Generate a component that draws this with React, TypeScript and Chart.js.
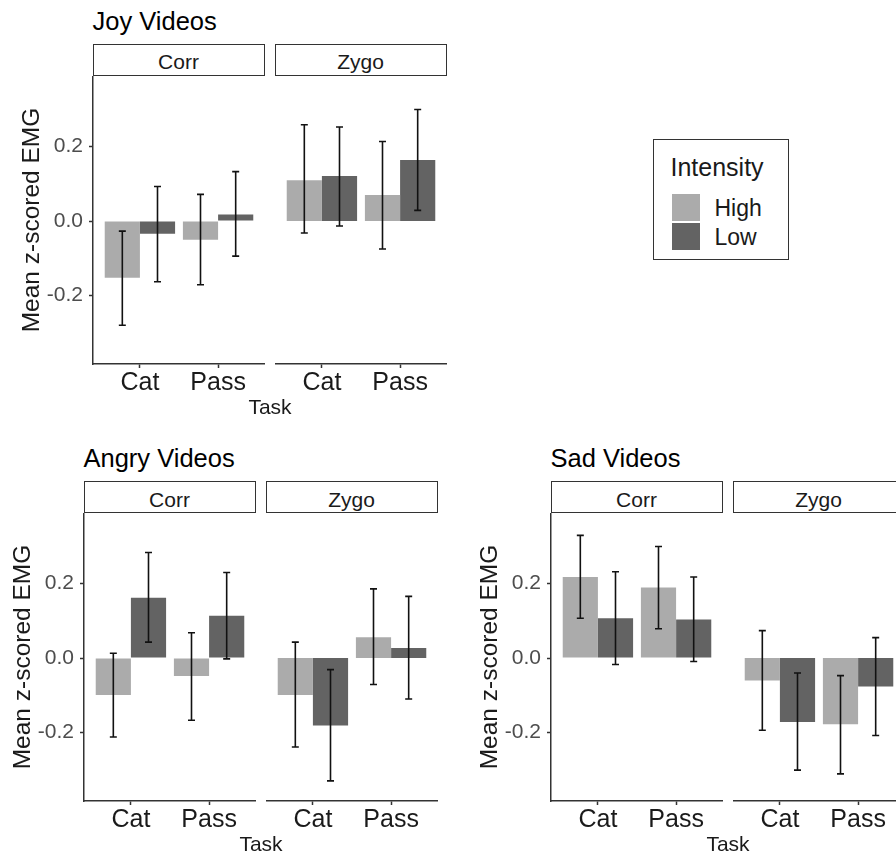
import React, { useEffect, useRef } from "react";
import { Chart, registerables } from "chart.js";

Chart.register(...registerables);

// ---------- data ----------
const tasks = ["Cat", "Pass"];
const intensities = ["High", "Low"];
const yTickValues = [-0.2, 0.0, 0.2];
const yMin = -0.384;
const yMax = 0.39;

// Joy videos
const joyCorrHigh = [-0.152, -0.05];
const joyCorrHighErr = [[-0.28, -0.027], [-0.171, 0.072]];
const joyCorrLow = [-0.034, 0.018];
const joyCorrLowErr = [[-0.163, 0.093], [-0.094, 0.133]];
const joyZygoHigh = [0.11, 0.07];
const joyZygoHighErr = [[-0.032, 0.259], [-0.075, 0.214]];
const joyZygoLow = [0.121, 0.164];
const joyZygoLowErr = [[-0.013, 0.253], [0.029, 0.3]];

// Angry videos
const angryCorrHigh = [-0.099, -0.048];
const angryCorrHighErr = [[-0.212, 0.013], [-0.167, 0.068]];
const angryCorrLow = [0.162, 0.114];
const angryCorrLowErr = [[0.043, 0.284], [-0.002, 0.23]];
const angryZygoHigh = [-0.099, 0.056];
const angryZygoHighErr = [[-0.239, 0.043], [-0.071, 0.186]];
const angryZygoLow = [-0.181, 0.027];
const angryZygoLowErr = [[-0.33, -0.031], [-0.11, 0.166]];

// Sad videos
const sadCorrHigh = [0.218, 0.19];
const sadCorrHighErr = [[0.107, 0.33], [0.079, 0.3]];
const sadCorrLow = [0.107, 0.104];
const sadCorrLowErr = [[-0.017, 0.232], [-0.009, 0.218]];
const sadZygoHigh = [-0.06, -0.178];
const sadZygoHighErr = [[-0.194, 0.074], [-0.311, -0.047]];
const sadZygoLow = [-0.172, -0.076];
const sadZygoLowErr = [[-0.301, -0.04], [-0.208, 0.055]];

// ---------- style / layout ----------
const FONT = "'Liberation Sans', Arial, Helvetica, sans-serif";
const HIGH_COLOR = "#ababab";
const LOW_COLOR = "#636363";
const AXIS_COLOR = "#333333";
const PANEL_W = 172;
const FACET_GAP = 10;
const PANEL_H = 288;
const STRIP_H = 32;
const AXIS_W = 80;
const XAXIS_H = 40;

Chart.defaults.font.family = FONT;

const errorBarPlugin = {
  id: "errorBars",
  afterDatasetsDraw(chart: any) {
    const { ctx } = chart;
    const yScale = chart.scales.y;
    chart.data.datasets.forEach((ds: any, i: number) => {
      const meta = chart.getDatasetMeta(i);
      meta.data.forEach((bar: any, j: number) => {
        const [lo, hi] = ds.errors[j];
        const x = bar.x;
        const yLo = yScale.getPixelForValue(lo);
        const yHi = yScale.getPixelForValue(hi);
        ctx.save();
        ctx.strokeStyle = "#111111";
        ctx.lineWidth = 1.6;
        ctx.beginPath();
        ctx.moveTo(x, yLo);
        ctx.lineTo(x, yHi);
        ctx.moveTo(x - 3.5, yLo);
        ctx.lineTo(x + 3.5, yLo);
        ctx.moveTo(x - 3.5, yHi);
        ctx.lineTo(x + 3.5, yHi);
        ctx.stroke();
        ctx.restore();
      });
    });
  },
};

type FacetProps = {
  left: number;
  top: number;
  showY: boolean;
  high: number[];
  highErr: number[][];
  low: number[];
  lowErr: number[][];
};

function Facet({ left, top, showY, high, highErr, low, lowErr }: FacetProps) {
  const ref = useRef<HTMLCanvasElement>(null);
  useEffect(() => {
    if (!ref.current) return;
    const chart = new Chart(ref.current, {
      type: "bar",
      data: {
        datasets: [
          {
            label: intensities[0],
            data: high.map((v, i) => ({ x: i + 1, y: v })),
            errors: highErr,
            backgroundColor: HIGH_COLOR,
            borderWidth: 0,
          } as any,
          {
            label: intensities[1],
            data: low.map((v, i) => ({ x: i + 1, y: v })),
            errors: lowErr,
            backgroundColor: LOW_COLOR,
            borderWidth: 0,
          } as any,
        ],
      },
      options: {
        animation: false,
        responsive: true,
        maintainAspectRatio: false,
        events: [],
        layout: { padding: 0 },
        datasets: { bar: { categoryPercentage: 0.9, barPercentage: 1.0 } },
        plugins: {
          legend: { display: false },
          title: { display: false },
          tooltip: { enabled: false },
        },
        scales: {
          x: {
            type: "linear",
            min: 0.4,
            max: 2.6,
            offset: false,
            afterBuildTicks: (axis: any) => {
              axis.ticks = tasks.map((_, i) => ({ value: i + 1 }));
            },
            afterFit: (axis: any) => {
              axis.height = XAXIS_H;
              axis.paddingLeft = 0;
              axis.paddingRight = 0;
            },
            ticks: {
              callback: (v: any) => tasks[Math.round(v) - 1],
              font: { size: 25, family: FONT },
              color: "#1a1a1a",
              padding: 0,
              autoSkip: false,
              maxRotation: 0,
              minRotation: 0,
            },
            grid: {
              display: true,
              drawOnChartArea: false,
              drawTicks: true,
              tickLength: 4,
              tickColor: AXIS_COLOR,
              tickWidth: 1.5,
              offset: false,
            },
            border: { display: true, color: AXIS_COLOR, width: 1.5 },
          } as any,
          y: {
            type: "linear",
            display: showY,
            min: yMin,
            max: yMax,
            afterBuildTicks: (axis: any) => {
              axis.ticks = yTickValues.map((v) => ({ value: v }));
            },
            afterFit: (axis: any) => {
              axis.width = showY ? AXIS_W : 0;
              axis.paddingTop = 0;
              axis.paddingBottom = 0;
            },
            ticks: {
              callback: (v: any) => Number(v).toFixed(1),
              font: { size: 21, family: FONT },
              color: "#4d4d4d",
              padding: 6,
            },
            grid: {
              display: true,
              drawOnChartArea: false,
              drawTicks: true,
              tickLength: 4,
              tickColor: AXIS_COLOR,
              tickWidth: 1.5,
            },
            border: { display: true, color: AXIS_COLOR, width: 1.5 },
            title: {
              display: true,
              text: "Mean z-scored EMG",
              font: { size: 24.5, family: FONT },
              color: "#1a1a1a",
              padding: { top: 5, bottom: 0 },
            },
          } as any,
        },
      },
      plugins: [errorBarPlugin],
    });
    return () => chart.destroy();
  }, []);
  const boxLeft = showY ? left - AXIS_W : left;
  const boxW = showY ? PANEL_W + AXIS_W : PANEL_W;
  return (
    <div
      style={{
        position: "absolute",
        left: boxLeft,
        top,
        width: boxW,
        height: PANEL_H + XAXIS_H,
      }}
    >
      <canvas ref={ref} />
    </div>
  );
}

function Text({
  x,
  baseline,
  size,
  children,
  center,
  color = "#000",
}: {
  x: number;
  baseline: number;
  size: number;
  children: React.ReactNode;
  center?: boolean;
  color?: string;
}) {
  const top = baseline - 0.8465 * size;
  return (
    <div
      style={{
        position: "absolute",
        left: center ? x - 150 : x,
        width: center ? 300 : undefined,
        textAlign: center ? "center" : "left",
        top,
        fontSize: size,
        lineHeight: `${size}px`,
        fontFamily: FONT,
        color,
        whiteSpace: "nowrap",
      }}
    >
      {children}
    </div>
  );
}

function Strip({ left, top, label }: { left: number; top: number; label: string }) {
  return (
    <div
      style={{
        position: "absolute",
        left,
        top,
        width: PANEL_W,
        height: STRIP_H,
        boxSizing: "border-box",
        border: `1.5px solid ${AXIS_COLOR}`,
        background: "#fff",
      }}
    >
      <Text x={PANEL_W / 2 - 1.5} baseline={24.5} size={21} center color="#1a1a1a">
        {label}
      </Text>
    </div>
  );
}

type PanelProps = {
  title: string;
  left: number;
  stripTop: number;
  corrHigh: number[];
  corrHighErr: number[][];
  corrLow: number[];
  corrLowErr: number[][];
  zygoHigh: number[];
  zygoHighErr: number[][];
  zygoLow: number[];
  zygoLowErr: number[][];
};

function Panel(p: PanelProps) {
  const panelTop = p.stripTop + STRIP_H;
  const zygoLeft = p.left + PANEL_W + FACET_GAP;
  const taskCenter = (p.left + zygoLeft + PANEL_W) / 2;
  return (
    <>
      <Text x={p.left - 0.5} baseline={p.stripTop - 13} size={25.5}>
        {p.title}
      </Text>
      <Strip left={p.left} top={p.stripTop} label="Corr" />
      <Strip left={zygoLeft} top={p.stripTop} label="Zygo" />
      <Facet
        left={p.left}
        top={panelTop}
        showY={true}
        high={p.corrHigh}
        highErr={p.corrHighErr}
        low={p.corrLow}
        lowErr={p.corrLowErr}
      />
      <Facet
        left={zygoLeft}
        top={panelTop}
        showY={false}
        high={p.zygoHigh}
        highErr={p.zygoHighErr}
        low={p.zygoLow}
        lowErr={p.zygoLowErr}
      />
      <Text x={taskCenter} baseline={panelTop + PANEL_H + 50} size={21} center color="#1a1a1a">
        Task
      </Text>
    </>
  );
}

function Legend() {
  return (
    <div
      style={{
        position: "absolute",
        left: 653,
        top: 139,
        width: 136,
        height: 121,
        boxSizing: "border-box",
        border: `1.5px solid ${AXIS_COLOR}`,
        background: "#fff",
      }}
    >
      <Text x={16.5} baseline={36.5} size={25} color="#1a1a1a">
        Intensity
      </Text>
      <div style={{ position: "absolute", left: 17.5, top: 53.5, width: 28, height: 27, background: HIGH_COLOR }} />
      <div style={{ position: "absolute", left: 17.5, top: 82.5, width: 28, height: 27, background: LOW_COLOR }} />
      <Text x={60.5} baseline={76.5} size={23} color="#1a1a1a">
        {intensities[0]}
      </Text>
      <Text x={60.5} baseline={105.5} size={23} color="#1a1a1a">
        {intensities[1]}
      </Text>
    </div>
  );
}

export default function App() {
  return (
    <div
      style={{
        position: "absolute",
        left: 0,
        top: 0,
        width: 896,
        height: 853,
        overflow: "hidden",
        background: "#fff",
        fontFamily: FONT,
      }}
    >
      <Panel
        title="Joy Videos"
        left={93}
        stripTop={43.5}
        corrHigh={joyCorrHigh}
        corrHighErr={joyCorrHighErr}
        corrLow={joyCorrLow}
        corrLowErr={joyCorrLowErr}
        zygoHigh={joyZygoHigh}
        zygoHighErr={joyZygoHighErr}
        zygoLow={joyZygoLow}
        zygoLowErr={joyZygoLowErr}
      />
      <Panel
        title="Angry Videos"
        left={84}
        stripTop={481}
        corrHigh={angryCorrHigh}
        corrHighErr={angryCorrHighErr}
        corrLow={angryCorrLow}
        corrLowErr={angryCorrLowErr}
        zygoHigh={angryZygoHigh}
        zygoHighErr={angryZygoHighErr}
        zygoLow={angryZygoLow}
        zygoLowErr={angryZygoLowErr}
      />
      <Panel
        title="Sad Videos"
        left={551}
        stripTop={481}
        corrHigh={sadCorrHigh}
        corrHighErr={sadCorrHighErr}
        corrLow={sadCorrLow}
        corrLowErr={sadCorrLowErr}
        zygoHigh={sadZygoHigh}
        zygoHighErr={sadZygoHighErr}
        zygoLow={sadZygoLow}
        zygoLowErr={sadZygoLowErr}
      />
      <Legend />
    </div>
  );
}
